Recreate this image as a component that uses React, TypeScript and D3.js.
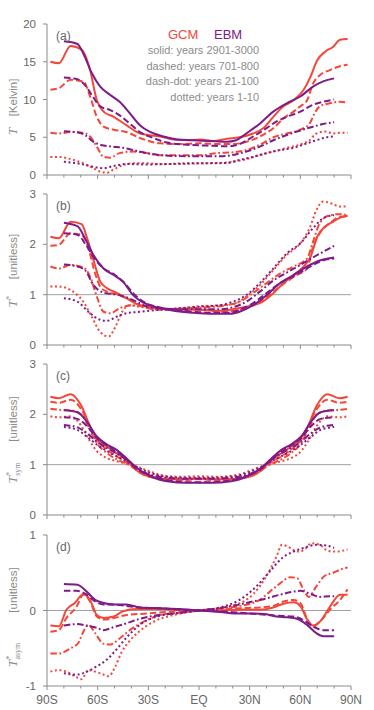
import React from "react";
import * as d3 from "d3";

// ---------- data (latitude in degrees, value) ----------
const LAT_TICKS = d3.range(-90, 91, 10);
const LAT_LABELS = ["90S", "60S", "30S", "EQ", "30N", "60N", "90N"];
const LAT_LABEL_POS = [-90, -60, -30, 0, 30, 60, 90];

const A_TICKS = [0, 5, 10, 15, 20];
const B_TICKS = [0, 1, 2, 3];
const D_TICKS = [-1, 0, 1];

// Panel (a): T [Kelvin]
const A_GCM_SOLID = [[-88,15.0],[-83,14.8],[-76,17.1],[-69.5,16.6],[-64.5,13.9],[-60.5,9.9],[-56.5,8.4],[-50.5,7.7],[-43,6.6],[-35,5.5],[-23,5.1],[-15,4.7],[-7,4.6],[0.5,4.7],[8.5,4.5],[16.5,4.8],[24,5.0],[32,5.5],[38,6.2],[44,7.7],[50,9.1],[56,9.9],[62,11.3],[66,13.0],[70,15.2],[74.5,16.3],[79.5,17.0],[83.5,17.9],[88,18.0]];
const A_EBM_SOLID = [[-80,17.7],[-72,17.35],[-68.5,16.1],[-63.5,13.5],[-58.5,11.7],[-52.5,10.6],[-47,9.7],[-41,8.2],[-35,6.6],[-29,5.7],[-21,5.1],[-13,4.7],[-3.5,4.6],[6.5,4.5],[16.5,4.4],[22,4.6],[28,5.5],[36,6.8],[44,8.4],[52,9.5],[60,10.4],[67.5,11.7],[73.5,12.4],[80,12.8]];
const A_GCM_DASH = [[-88,11.3],[-83,11.5],[-76,12.6],[-68.5,12.4],[-64.5,10.4],[-60.5,7.7],[-56.5,6.4],[-50.5,6.0],[-43,5.7],[-35,4.9],[-23,4.2],[-11,4.1],[0.5,4.2],[12.5,4.1],[20,4.1],[28,4.4],[36,5.1],[44,6.2],[50,7.5],[56,8.4],[60,9.1],[64,9.9],[67.5,12.1],[71.5,13.2],[77.5,13.9],[83.5,14.4],[88,14.6]];
const A_EBM_DASH = [[-80,12.9],[-72,12.7],[-67.5,11.9],[-63.5,10.6],[-58.5,9.1],[-52.5,8.6],[-47,7.9],[-41,6.8],[-35,5.7],[-27,4.9],[-19,4.3],[-7,4.0],[4.5,3.9],[16.5,3.8],[24,4.1],[32,5.1],[40,6.2],[46,7.1],[52,7.7],[60,8.4],[67.5,9.3],[73.5,9.7],[80,10.0]];
const A_GCM_DASHDOT = [[-88,5.6],[-83,5.5],[-76,5.7],[-68.5,5.6],[-64.5,5.1],[-60.5,3.75],[-56.5,2.4],[-52.5,2.3],[-47,2.9],[-39,3.1],[-31,2.9],[-23,2.6],[-11,2.6],[0.5,2.6],[10.5,2.9],[20,3.0],[28,3.3],[36,4.0],[44,5.0],[52,5.5],[60,6.0],[65.5,6.8],[68.5,8.2],[71.5,9.1],[77.5,9.5],[83.5,9.7],[88,9.6]];
const A_EBM_DASHDOT = [[-80,5.8],[-72,5.65],[-67.5,5.3],[-62.5,4.4],[-56.5,3.9],[-50.5,3.75],[-45,3.6],[-39,3.3],[-31,2.9],[-23,2.65],[-11,2.5],[0.5,2.5],[12.5,2.5],[20,2.65],[28,3.1],[36,3.75],[44,4.6],[52,5.3],[60,5.9],[67.5,6.4],[73.5,6.75],[80,7.0]];
const A_GCM_DOT = [[-88,2.4],[-83,2.4],[-76,2.1],[-68.5,1.55],[-63.5,1.0],[-58.5,0.45],[-54.5,0.3],[-50.5,0.75],[-45,1.3],[-39,1.55],[-31,1.55],[-23,1.45],[-11,1.45],[0.5,1.55],[12.5,1.6],[20,1.75],[28,2.1],[36,2.65],[44,3.1],[52,3.6],[60,4.05],[65.5,4.6],[69.5,5.5],[74.5,5.75],[79.5,5.5],[83.5,5.6],[88,5.6]];
const A_EBM_DOT = [[-80,1.75],[-72,1.55],[-66.5,1.3],[-60.5,1.0],[-56.5,0.9],[-50.5,1.2],[-43,1.45],[-31,1.4],[-19,1.45],[-7,1.55],[4.5,1.55],[16.5,1.6],[24,2.0],[32,2.4],[40,2.9],[48,3.3],[56,3.6],[64,4.2],[69.5,4.6],[75.5,5.0],[80,5.1]];

// Panel (b): T* [unitless]
const B_GCM_SOLID = [[-88,2.15],[-83,2.12],[-76,2.45],[-69.5,2.4],[-66.5,2.15],[-62.5,1.69],[-58.5,1.26],[-54.5,1.13],[-49,1.04],[-43,0.93],[-35,0.79],[-23,0.73],[-11,0.71],[0.5,0.70],[12.5,0.68],[20,0.71],[28,0.76],[36,0.83],[44,1.03],[50,1.23],[56,1.39],[62,1.56],[66,1.75],[70,2.15],[74.5,2.35],[79.5,2.45],[83.5,2.53],[88,2.57]];
const B_EBM_SOLID = [[-80,2.43],[-72,2.36],[-67.5,2.12],[-62.5,1.79],[-56.5,1.52],[-50.5,1.39],[-45,1.26],[-39,0.99],[-33,0.84],[-25,0.75],[-15,0.68],[-3.5,0.64],[8.5,0.62],[18.5,0.62],[24,0.66],[32,0.79],[40,0.99],[48,1.23],[56,1.39],[64,1.56],[71.5,1.68],[80,1.74]];
const B_GCM_DASH = [[-88,1.97],[-83,1.99],[-76,2.22],[-69.5,2.19],[-65.5,1.92],[-61.5,1.42],[-58.5,1.16],[-54.5,1.06],[-49,1.01],[-43,0.93],[-35,0.79],[-23,0.70],[-11,0.70],[0.5,0.71],[12.5,0.66],[20,0.68],[28,0.75],[36,0.86],[44,1.06],[52,1.26],[58,1.39],[64,1.52],[67.5,1.95],[71.5,2.22],[77.5,2.42],[83.5,2.55],[88,2.56]];
const B_EBM_DASH = [[-80,2.22],[-72,2.19],[-67.5,2.02],[-62.5,1.75],[-56.5,1.52],[-50.5,1.41],[-45,1.26],[-39,1.03],[-33,0.86],[-25,0.76],[-15,0.70],[-3.5,0.66],[8.5,0.64],[18.5,0.64],[24,0.70],[32,0.83],[40,1.03],[48,1.23],[56,1.37],[64,1.52],[71.5,1.66],[80,1.72]];
const B_GCM_DASHDOT = [[-88,1.56],[-83,1.52],[-76,1.59],[-68.5,1.54],[-64.5,1.36],[-60.5,0.96],[-56.5,0.66],[-52.5,0.63],[-47,0.73],[-39,0.79],[-31,0.75],[-19,0.71],[-7,0.73],[4.5,0.75],[16.5,0.79],[24,0.86],[32,1.03],[40,1.23],[48,1.42],[56,1.56],[64,1.72],[67.5,2.05],[71.5,2.42],[77.5,2.58],[83.5,2.60],[88,2.58]];
const B_EBM_DASHDOT = [[-80,1.60],[-72,1.56],[-67.5,1.49],[-62.5,1.19],[-56.5,1.04],[-50.5,1.01],[-45,0.97],[-39,0.89],[-31,0.77],[-23,0.73],[-11,0.71],[0.5,0.71],[12.5,0.71],[20,0.75],[28,0.86],[36,1.06],[44,1.28],[52,1.44],[60,1.59],[67.5,1.74],[73.5,1.85],[80,1.97]];
const B_GCM_DOT = [[-88,1.16],[-83,1.16],[-76,1.09],[-68.5,0.86],[-63.5,0.56],[-58.5,0.26],[-53.5,0.17],[-49.5,0.36],[-46,0.63],[-41,0.79],[-35,0.76],[-23,0.71],[-11,0.73],[0.5,0.77],[12.5,0.79],[20,0.81],[28,0.96],[36,1.19],[44,1.49],[52,1.79],[60,2.02],[65.5,2.32],[69.5,2.68],[73.5,2.85],[78.5,2.81],[83.5,2.75],[88,2.75]];
const B_EBM_DOT = [[-80,0.93],[-72,0.86],[-64.5,0.63],[-58.5,0.50],[-54.5,0.48],[-49,0.56],[-43,0.63],[-35,0.66],[-23,0.70],[-11,0.73],[0.5,0.76],[12.5,0.79],[20,0.86],[28,0.99],[36,1.23],[44,1.52],[52,1.82],[60,2.02],[67.5,2.32],[73.5,2.52],[80,2.58]];

// Panel (c): T*_sym [unitless]
const C_GCM_SOLID = [[-88,2.35],[-83,2.32],[-76,2.40],[-69.5,2.16],[-64.5,1.76],[-60.5,1.53],[-54.5,1.36],[-49,1.23],[-43,1.10],[-35,0.84],[-23,0.72],[-11,0.71],[0,0.72],[11,0.71],[23,0.72],[35,0.84],[43,1.10],[49,1.23],[54.5,1.36],[60.5,1.53],[64.5,1.76],[69.5,2.16],[76,2.40],[83,2.32],[88,2.35]];
const C_EBM_SOLID = [[-80,2.08],[-72,2.04],[-66.5,1.86],[-60.5,1.56],[-54.5,1.40],[-49,1.30],[-43,1.13],[-37,0.94],[-29,0.78],[-19,0.67],[-7,0.64],[0,0.64],[7,0.64],[19,0.67],[29,0.78],[37,0.94],[43,1.13],[49,1.30],[54.5,1.40],[60.5,1.56],[66.5,1.86],[72,2.04],[80,2.08]];
const C_GCM_DASH = [[-88,2.25],[-83,2.23],[-76,2.29],[-69.5,2.09],[-64.5,1.75],[-60.5,1.50],[-54.5,1.30],[-49,1.17],[-43,1.05],[-35,0.84],[-23,0.72],[-11,0.69],[0,0.71],[11,0.69],[23,0.72],[35,0.84],[43,1.05],[49,1.17],[54.5,1.30],[60.5,1.50],[64.5,1.75],[69.5,2.09],[76,2.29],[83,2.23],[88,2.25]];
const C_EBM_DASH = [[-80,1.94],[-72,1.91],[-66.5,1.77],[-60.5,1.53],[-54.5,1.38],[-49,1.27],[-43,1.11],[-37,0.92],[-29,0.78],[-19,0.69],[-7,0.65],[0,0.65],[7,0.65],[19,0.69],[29,0.78],[37,0.92],[43,1.11],[49,1.27],[54.5,1.38],[60.5,1.53],[66.5,1.77],[72,1.91],[80,1.94]];
const C_GCM_DASHDOT = [[-88,2.11],[-83,2.09],[-76,2.08],[-69.5,1.99],[-64.5,1.69],[-60.5,1.43],[-54.5,1.23],[-49,1.11],[-43,1.02],[-35,0.87],[-23,0.76],[-11,0.72],[0,0.72],[11,0.72],[23,0.76],[35,0.87],[43,1.02],[49,1.11],[54.5,1.23],[60.5,1.43],[64.5,1.69],[69.5,1.99],[76,2.08],[83,2.09],[88,2.11]];
const C_EBM_DASHDOT = [[-80,1.79],[-72,1.74],[-66.5,1.63],[-60.5,1.46],[-54.5,1.33],[-49,1.23],[-43,1.10],[-37,0.94],[-29,0.80],[-19,0.74],[-7,0.72],[0,0.72],[7,0.72],[19,0.74],[29,0.80],[37,0.94],[43,1.10],[49,1.23],[54.5,1.33],[60.5,1.46],[66.5,1.63],[72,1.74],[80,1.79]];
const C_GCM_DOT = [[-88,1.96],[-83,1.94],[-76,1.96],[-69.5,1.76],[-64.5,1.46],[-60.5,1.27],[-54.5,1.13],[-49,1.07],[-43,1.02],[-35,0.94],[-23,0.80],[-11,0.76],[0,0.77],[11,0.76],[23,0.80],[35,0.94],[43,1.02],[49,1.07],[54.5,1.13],[60.5,1.27],[64.5,1.46],[69.5,1.76],[76,1.96],[83,1.94],[88,1.96]];
const C_EBM_DOT = [[-80,1.75],[-72,1.69],[-66.5,1.56],[-60.5,1.40],[-54.5,1.27],[-49,1.17],[-43,1.07],[-37,0.96],[-29,0.84],[-19,0.76],[-7,0.74],[0,0.74],[7,0.74],[19,0.76],[29,0.84],[37,0.96],[43,1.07],[49,1.17],[54.5,1.27],[60.5,1.40],[66.5,1.56],[72,1.69],[80,1.75]];

// Panel (d): T*_asym [unitless]
const D_GCM_SOLID = [[-88,-0.20],[-83,-0.21],[-78.5,0.01],[-73.5,0.10],[-68.5,0.22],[-64.5,0.14],[-60.5,-0.06],[-56.5,-0.10],[-50.5,-0.08],[-45,-0.01],[-37,0.02],[-25,0.02],[-11,0.01],[0,0],[12.5,0],[24,0.01],[36,0.01],[44,0.04],[50,0.09],[56,0.11],[60,0.06],[64,-0.12],[67.5,-0.20],[71.5,-0.15],[77.5,0.05],[83.5,0.21],[88,0.21]];
const D_EBM_SOLID = [[-80,0.35],[-72,0.34],[-66.5,0.25],[-61.5,0.14],[-56.5,0.10],[-50.5,0.08],[-43,0.08],[-35,0.04],[-23,0.03],[-11,0.02],[0,0],[12.5,-0.02],[24,-0.04],[32,-0.04],[40,-0.05],[46,-0.08],[52,-0.09],[58,-0.11],[64,-0.19],[69.5,-0.30],[73.5,-0.34],[80,-0.34]];
const D_GCM_DASH = [[-88,-0.28],[-83,-0.26],[-78.5,-0.10],[-72.5,0.05],[-68.5,0.21],[-64.5,0.12],[-60.5,-0.08],[-56.5,-0.12],[-50.5,-0.10],[-43,-0.06],[-31,-0.04],[-19,-0.02],[-7,0],[0,0],[12.5,0.01],[24,0.03],[36,0.04],[44,0.06],[50,0.12],[56,0.14],[60,0.10],[64,-0.11],[67.5,-0.21],[71.5,-0.15],[77.5,0.01],[83.5,0.14],[88,0.28]];
const D_EBM_DASH = [[-80,0.26],[-72.5,0.26],[-66.5,0.21],[-61.5,0.12],[-56.5,0.08],[-50.5,0.08],[-43,0.06],[-35,0.04],[-23,0.03],[-11,0.01],[0,0],[12.5,-0.01],[24,-0.03],[36,-0.05],[46,-0.07],[56,-0.08],[62,-0.13],[67.5,-0.21],[73.5,-0.26],[80,-0.26]];
const D_GCM_DASHDOT = [[-88,-0.57],[-83,-0.57],[-76,-0.50],[-71.5,-0.43],[-68.5,-0.28],[-65.5,-0.19],[-61.5,-0.30],[-56.5,-0.44],[-52.5,-0.45],[-47,-0.37],[-41,-0.26],[-33,-0.15],[-23,-0.06],[-11,-0.03],[0,0],[12.5,0.03],[24,0.06],[36,0.14],[42,0.25],[48,0.36],[54,0.44],[58,0.43],[62,0.27],[65,0.18],[69.5,0.32],[74.5,0.46],[79.5,0.50],[83.5,0.54],[88,0.57]];
const D_EBM_DASHDOT = [[-80,-0.20],[-72.5,-0.18],[-66.5,-0.20],[-60.5,-0.23],[-56.5,-0.26],[-50.5,-0.22],[-43,-0.17],[-35,-0.11],[-27,-0.07],[-15,-0.04],[0,0],[12.5,0.03],[24,0.08],[32,0.12],[40,0.16],[48,0.21],[56,0.25],[60,0.26],[66,0.22],[71.5,0.18],[77.5,0.19],[80,0.19]];
const D_GCM_DOT = [[-88,-0.81],[-83,-0.79],[-78.5,-0.81],[-73.5,-0.87],[-69.5,-0.91],[-65.5,-0.79],[-61.5,-0.81],[-57.5,-0.84],[-53.5,-0.87],[-49.5,-0.74],[-46,-0.56],[-41,-0.40],[-35,-0.27],[-27,-0.15],[-15,-0.06],[0,0],[16.5,0.05],[28,0.14],[36,0.32],[42,0.54],[46,0.72],[49,0.87],[54,0.83],[58,0.78],[62,0.80],[66.5,0.89],[71.5,0.87],[76.5,0.79],[81.5,0.78],[88,0.81]];
const D_EBM_DOT = [[-80,-0.83],[-72.5,-0.85],[-66.5,-0.81],[-60.5,-0.74],[-54.5,-0.65],[-49,-0.52],[-43,-0.36],[-35,-0.19],[-25,-0.08],[-11,-0.03],[0,0],[12.5,0.04],[24,0.14],[34,0.32],[42,0.52],[50,0.71],[56,0.78],[62,0.83],[69.5,0.87],[75.5,0.86],[80,0.83]];

const LEGEND_LINES = [
  "solid: years 2901-3000",
  "dashed: years 701-800",
  "dash-dot: years 21-100",
  "dotted: years 1-10",
];

// ---------- styling ----------
const RED = "#f4473a";
const PURPLE = "#7e1b88";
const AXIS = "#8a8a8a";
const TICK_TEXT = "#666";
const LABEL = "#8c8c8c";
const SANS = "'Liberation Sans', Arial, Helvetica, sans-serif";
const SERIF = "'Liberation Serif', 'DejaVu Serif', serif";

const DASH = {
  solid: undefined,
  dash: "6.5,3",
  dashdot: "6.5,2.5,1.8,2.5",
  dot: "2,2.6",
};

const LEFT = 47;
const RIGHT = 351;
const PH = 151;

const xScale = d3.scaleLinear().domain([-90, 90]).range([LEFT, RIGHT]);

type Pt = number[];
type Series = { data: Pt[]; color: string; dash?: string };

function makeSeries(g: Pt[][], e: Pt[][]): Series[] {
  const styles = [DASH.solid, DASH.dash, DASH.dashdot, DASH.dot];
  const out: Series[] = [];
  for (let i = 3; i >= 0; i--) out.push({ data: g[i], color: RED, dash: styles[i] });
  for (let i = 3; i >= 0; i--) out.push({ data: e[i], color: PURPLE, dash: styles[i] });
  return out;
}

const PANELS = [
  {
    top: 24, domain: [0, 20], ticks: A_TICKS, ref: null, letter: "(a)",
    series: makeSeries([A_GCM_SOLID, A_GCM_DASH, A_GCM_DASHDOT, A_GCM_DOT], [A_EBM_SOLID, A_EBM_DASH, A_EBM_DASHDOT, A_EBM_DOT]),
    unit: "[Kelvin]", sup: "", sub: "", unitC: 73.5, mathC: 107.5,
  },
  {
    top: 194, domain: [0, 3], ticks: B_TICKS, ref: 1, letter: "(b)",
    series: makeSeries([B_GCM_SOLID, B_GCM_DASH, B_GCM_DASHDOT, B_GCM_DOT], [B_EBM_SOLID, B_EBM_DASH, B_EBM_DASHDOT, B_EBM_DOT]),
    unit: "[unitless]", sup: "*", sub: "", unitC: 62.5, mathC: 107.5,
  },
  {
    top: 364, domain: [0, 3], ticks: B_TICKS, ref: 1, letter: "(c)",
    series: makeSeries([C_GCM_SOLID, C_GCM_DASH, C_GCM_DASHDOT, C_GCM_DOT], [C_EBM_SOLID, C_EBM_DASH, C_EBM_DASHDOT, C_EBM_DOT]),
    unit: "[unitless]", sup: "*", sub: "sym", unitC: 55, mathC: 109,
  },
  {
    top: 535, domain: [-1, 1], ticks: D_TICKS, ref: 0, letter: "(d)",
    series: makeSeries([D_GCM_SOLID, D_GCM_DASH, D_GCM_DASHDOT, D_GCM_DOT], [D_EBM_SOLID, D_EBM_DASH, D_EBM_DASHDOT, D_EBM_DOT]),
    unit: "[unitless]", sup: "*", sub: "asym", unitC: 55, mathC: 120,
  },
];

function Panel({ p, last }: { p: any; last: boolean }) {
  const y = d3.scaleLinear().domain(p.domain).range([p.top + PH, p.top]);
  const line = d3
    .line<Pt>()
    .x((d) => xScale(d[0]))
    .y((d) => y(d[1]))
    .curve(d3.curveMonotoneX);
  const bottom = p.top + PH;
  return (
    <g>
      {p.ref !== null && (
        <line x1={LEFT} x2={RIGHT} y1={y(p.ref)} y2={y(p.ref)} stroke="#a0a0a0" strokeWidth={1} />
      )}
      {p.series.map((s: Series, i: number) => (
        <path key={i} d={line(s.data) || ""} fill="none" stroke={s.color} strokeWidth={2}
          strokeDasharray={s.dash} strokeLinejoin="round" />
      ))}
      {/* axes */}
      <line x1={LEFT} x2={LEFT} y1={p.top} y2={bottom} stroke={AXIS} strokeWidth={1} />
      <line x1={LEFT} x2={RIGHT} y1={bottom} y2={bottom} stroke={AXIS} strokeWidth={1} />
      {LAT_TICKS.map((t) => (
        <line key={t} x1={xScale(t)} x2={xScale(t)} y1={bottom}
          y2={bottom + (t % 30 === 0 ? 4 : 2.5)} stroke={AXIS} strokeWidth={1} />
      ))}
      {p.ticks.map((t: number) => (
        <g key={t}>
          <line x1={LEFT - 4} x2={LEFT} y1={y(t)} y2={y(t)} stroke={AXIS} strokeWidth={1} />
          <text x={36} y={y(t)} dy="0.36em" textAnchor="end" fontSize={11.5} fill={TICK_TEXT}
            fontFamily={SANS}>{t}</text>
        </g>
      ))}
      {last &&
        LAT_LABEL_POS.map((t, i) => (
          <text key={t} x={xScale(t)} y={704} textAnchor="middle" fontSize={12} fill={TICK_TEXT}
            fontFamily={SANS}>{LAT_LABELS[i]}</text>
        ))}
      <text x={56} y={p.top + 15.5} fontSize={12} fill={TICK_TEXT} fontFamily={SANS}>{p.letter}</text>
      {/* y label */}
      <text transform={`translate(16.5,${p.top + p.unitC}) rotate(-90)`} textAnchor="middle"
        fontSize={11.5} fill={LABEL} fontFamily={SANS}>{p.unit}</text>
      <text transform={`translate(16.5,${p.top + p.mathC}) rotate(-90)`} textAnchor="middle"
        fill={LABEL}>
        <tspan fontFamily={SERIF} fontStyle="italic" fontSize={13.5}>T</tspan>
        {p.sup && <tspan fontFamily={SERIF} fontSize={8.5} dy={-5}>{p.sup}</tspan>}
        {p.sub && <tspan fontFamily={SERIF} fontSize={8} dx={-4} dy={8}>{p.sub}</tspan>}
      </text>
    </g>
  );
}

export default function App() {
  return (
    <svg width={374} height={710} style={{ position: "absolute", left: 0, top: 0, background: "#fff" }}>
      {PANELS.map((p, i) => (
        <Panel key={i} p={p} last={i === PANELS.length - 1} />
      ))}
      <text x={168} y={39.3} fontSize={13} fill={RED} fontFamily={SANS}>GCM</text>
      <text x={214} y={39.3} fontSize={13} fill={PURPLE} fontFamily={SANS}>EBM</text>
      {LEGEND_LINES.map((t, i) => (
        <text key={t} x={259} y={54 + i * 15.5} textAnchor="end" fontSize={11} fill={LABEL}
          fontFamily={SANS}>{t}</text>
      ))}
    </svg>
  );
}
